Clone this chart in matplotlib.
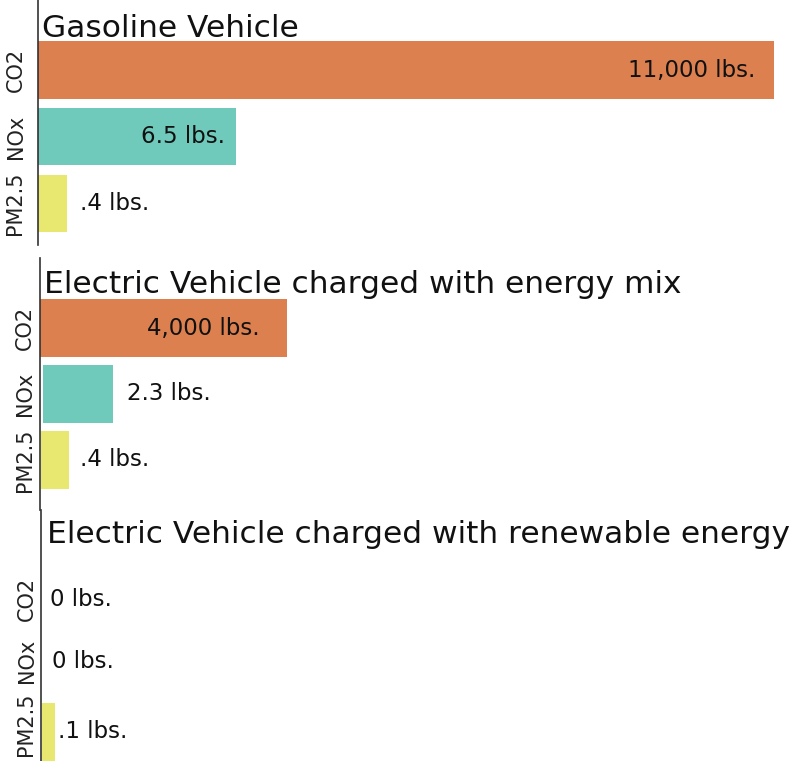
import matplotlib
matplotlib.use("Agg")
import matplotlib.pyplot as plt
from matplotlib.lines import Line2D

panels = ["Gasoline Vehicle",
          "Electric Vehicle charged with energy mix",
          "Electric Vehicle charged with renewable energy"]
pollutants = ["CO2", "NOx", "PM2.5"]
co2 = [11000, 4000, 0]
nox = [6.5, 2.3, 0]
pm25 = [0.4, 0.4, 0.1]

colors = ["#DD8050", "#70CABB", "#E8E870"]

W, H = 798, 761
fig = plt.figure(figsize=(W / 100, H / 100), dpi=100)
plt.rcParams["font.family"] = "DejaVu Sans"


def fmt(v):
    if v >= 1000:
        return f"{v:,.0f} lbs."
    if v == 0:
        return "0 lbs."
    if v < 1:
        return f"{v:.1f}".lstrip("0") + " lbs."
    return f"{v:g} lbs."


def rect(x0, y0, x1, y1):
    return [x0 / W, 1 - y1 / H, (x1 - x0) / W, (y1 - y0) / H]


# per panel layout (pixels): spine x, spine top, spine bottom, title x, title baseline
layout = [
    dict(spine=38, top=0, bottom=245, tx=42, ty=37),
    dict(spine=40, top=258, bottom=510, tx=44, ty=293),
    dict(spine=41, top=510, bottom=761, tx=47, ty=543),
]
# rows: (bar left, top, bottom, xmax, label offset px, ylabel pad, ylabel y)
rows = [
    [(38, 41, 99, 11000, -19, 9, 0.5), (38, 108, 165, 24.2, -11, 9, 0.5),
     (38, 175, 232, 10.2, 13, 9, 0.5)],
    [(40, 299, 357, 11900, -27, 4, 0.5), (43, 365, 423, 24.0, 14, 6, 0.5),
     (41, 431, 489, 10.5, 11, 4, 0.5)],
    [(41, 570, 628, 11900, 9, 3, 0.5), (41, 632, 690, 24.0, 11, 3, 0.5),
     (42, 703, 761, 5.6, 3, 4, 0.64)],
]

data = list(zip(co2, nox, pm25))

for p, (name, lay) in enumerate(zip(panels, layout)):
    fig.add_artist(Line2D([lay["spine"] / W] * 2, [1 - lay["top"] / H, 1 - lay["bottom"] / H],
                          color="#333333", linewidth=1.2))
    fig.text(lay["tx"] / W, 1 - lay["ty"] / H, name, fontsize=22.5, va="baseline",
             ha="left", color="#111111")
    for r, pol in enumerate(pollutants):
        x0, y0, y1, xmax, off, pad, ly = rows[p][r]
        ax = fig.add_axes(rect(x0, y0, 774, y1))
        v = data[p][r]
        ax.barh([0], [v], height=1.0, color=colors[r])
        ax.set_xlim(0, xmax)
        ax.set_ylim(-0.5, 0.5)
        ax.set_frame_on(False)
        ax.set_xticks([])
        ax.set_yticks([])
        ax.set_ylabel(pol, fontsize=15, labelpad=pad, color="#222222")
        ax.yaxis.label.set_y(ly)
        ax.annotate(fmt(v), xy=(v, 0), xytext=(off, 0), textcoords="offset pixels",
                    ha="right" if off < 0 else "left", va="center",
                    fontsize=16.5, color="#111111")

fig.savefig("out.png", dpi=100)
